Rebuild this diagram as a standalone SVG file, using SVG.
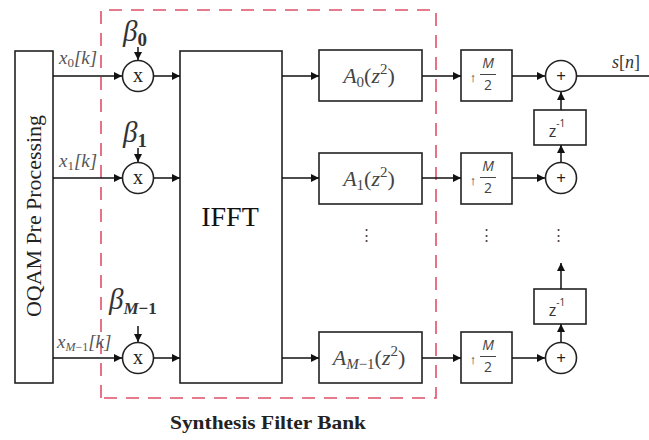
<svg xmlns="http://www.w3.org/2000/svg" width="649" height="440" viewBox="0 0 649 440">
<defs>
<marker id="ah" viewBox="0 0 10 10" refX="10" refY="5" markerWidth="8" markerHeight="8" markerUnits="userSpaceOnUse" orient="auto"><path d="M0,0 L10,5 L0,10 z" fill="#111"/></marker>
</defs>
<style>
.box{fill:#fff;stroke:#222;stroke-width:1.6}
.ln{stroke:#111;stroke-width:1.5;fill:none}
.ar{stroke:#111;stroke-width:1.5;fill:none;marker-end:url(#ah)}
.serif{font-family:"Liberation Serif","DejaVu Serif",serif}
.mi{font-family:"Liberation Serif","DejaVu Serif",serif;font-style:italic}
.sans{font-family:"Open Sans","Liberation Sans",sans-serif}
.lab{fill:#555;font-size:19px}
.beta{fill:#333;font-size:29px}
.af{fill:#444;font-size:22px}
.mx{font-size:20px;fill:#222}
</style>
<rect width="649" height="440" fill="#fff"/>
<g id="sfb-boundary">
<path d="M101,398 V10 H436 V398 Z" fill="none" stroke="#e0506a" stroke-width="1.6" stroke-dasharray="13,9"/>
</g>
<g id="oqam">
<rect class="box" x="15" y="51" width="38" height="332"/>
<text class="serif" font-size="20" fill="#222" text-anchor="middle" textLength="202" lengthAdjust="spacingAndGlyphs" transform="translate(41,216) rotate(-90)">OQAM Pre Processing</text>
</g>
<g id="ifft">
<rect class="box" x="180" y="51" width="102" height="332"/>
<text class="serif" x="230" y="226" font-size="28" fill="#111" text-anchor="middle">IFFT</text>
</g>
<g id="mul0"><circle class="box" cx="138" cy="76" r="15.5"/><text class="serif mx" x="138" y="82" text-anchor="middle">x</text>
<text class="mi beta" x="123" y="41">β<tspan font-style="normal" font-weight="bold" font-size="19" dy="5">0</tspan></text></g>
<g id="mul1"><circle class="box" cx="138" cy="178" r="15.5"/><text class="serif mx" x="138" y="184" text-anchor="middle">x</text>
<text class="mi beta" x="123" y="142">β<tspan font-style="normal" font-weight="bold" font-size="19" dy="5">1</tspan></text></g>
<g id="mul2"><circle class="box" cx="138" cy="358" r="15.5"/><text class="serif mx" x="138" y="364" text-anchor="middle">x</text>
<text class="mi beta" x="109" y="309">β<tspan font-size="17" font-weight="bold" dy="5">M</tspan><tspan font-style="normal" font-weight="bold" font-size="17">−1</tspan></text></g>
<g id="a0"><rect class="box" x="319" y="50" width="103" height="51"/>
<text class="mi af" x="369" y="83" text-anchor="middle">A<tspan font-style="normal" font-size="15" dy="4">0</tspan><tspan font-style="normal" dy="-4">(</tspan>z<tspan font-style="normal" font-size="15" dy="-9">2</tspan><tspan font-style="normal" dy="9">)</tspan></text></g>
<g id="a1"><rect class="box" x="319" y="153" width="103" height="51"/>
<text class="mi af" x="369" y="186" text-anchor="middle">A<tspan font-style="normal" font-size="15" dy="4">1</tspan><tspan font-style="normal" dy="-4">(</tspan>z<tspan font-style="normal" font-size="15" dy="-9">2</tspan><tspan font-style="normal" dy="9">)</tspan></text></g>
<g id="a2"><rect class="box" x="319" y="332" width="103" height="51"/>
<text class="mi af" x="369" y="365" text-anchor="middle">A<tspan font-size="15" dy="4">M</tspan><tspan font-style="normal" font-size="15">−1</tspan><tspan font-style="normal" dy="-4">(</tspan>z<tspan font-style="normal" font-size="15" dy="-9">2</tspan><tspan font-style="normal" dy="9">)</tspan></text></g>
<g id="up0"><rect class="box" x="461" y="50" width="51" height="51"/>
<text class="sans" x="473" y="82" font-size="13" fill="#333" text-anchor="middle">↑</text>
<text class="sans" x="488" y="68" font-size="14" font-style="italic" fill="#444" text-anchor="middle">M</text>
<line x1="480" y1="74.5" x2="496" y2="74.5" stroke="#444" stroke-width="1"/>
<text class="sans" x="488" y="90" font-size="14" fill="#444" text-anchor="middle">2</text></g>
<g id="up1"><rect class="box" x="461" y="153" width="51" height="51"/>
<text class="sans" x="473" y="185" font-size="13" fill="#333" text-anchor="middle">↑</text>
<text class="sans" x="488" y="171" font-size="14" font-style="italic" fill="#444" text-anchor="middle">M</text>
<line x1="480" y1="177.5" x2="496" y2="177.5" stroke="#444" stroke-width="1"/>
<text class="sans" x="488" y="193" font-size="14" fill="#444" text-anchor="middle">2</text></g>
<g id="up2"><rect class="box" x="461" y="332" width="51" height="51"/>
<text class="sans" x="473" y="364" font-size="13" fill="#333" text-anchor="middle">↑</text>
<text class="sans" x="488" y="350" font-size="14" font-style="italic" fill="#444" text-anchor="middle">M</text>
<line x1="480" y1="356.5" x2="496" y2="356.5" stroke="#444" stroke-width="1"/>
<text class="sans" x="488" y="372" font-size="14" fill="#444" text-anchor="middle">2</text></g>
<g id="add0"><circle class="box" cx="561" cy="76" r="15.5"/><text class="sans" x="561" y="82" font-size="17" text-anchor="middle" fill="#222">+</text></g>
<g id="add1"><circle class="box" cx="561" cy="178" r="15.5"/><text class="sans" x="561" y="184" font-size="17" text-anchor="middle" fill="#222">+</text></g>
<g id="add2"><circle class="box" cx="561" cy="358" r="15.5"/><text class="sans" x="561" y="364" font-size="17" text-anchor="middle" fill="#222">+</text></g>
<g id="z0"><rect class="box" x="534" y="110" width="52" height="35"/>
<text class="sans" x="557" y="137" font-size="16" fill="#333" text-anchor="middle">z<tspan font-size="10" dy="-10">-1</tspan></text></g>
<g id="z1"><rect class="box" x="534" y="289" width="52" height="35"/>
<text class="sans" x="557" y="316" font-size="16" fill="#333" text-anchor="middle">z<tspan font-size="10" dy="-10">-1</tspan></text></g>
<g id="labels">
<text class="mi lab" x="59" y="64">x<tspan font-style="normal" font-size="13" dy="3">0</tspan><tspan dy="-3">[k]</tspan></text>
<text class="mi lab" x="59" y="167">x<tspan font-style="normal" font-size="13" dy="3">1</tspan><tspan dy="-3">[k]</tspan></text>
<text class="mi lab" x="57" y="348">x<tspan font-size="12" dy="3">M</tspan><tspan font-style="normal" font-size="12">−1</tspan><tspan dy="-3">[k]</tspan></text>
<text class="mi" x="612" y="68" font-size="18" fill="#333">s<tspan font-style="normal">[</tspan>n<tspan font-style="normal">]</tspan></text>
<text class="serif" x="366" y="240" font-size="15" fill="#444" text-anchor="middle">⋮</text>
<text class="serif" x="486" y="240" font-size="15" fill="#444" text-anchor="middle">⋮</text>
<text class="serif" x="558" y="240" font-size="15" fill="#444" text-anchor="middle">⋮</text>
<text class="serif" x="268" y="429" font-size="19" font-weight="bold" fill="#222" text-anchor="middle" textLength="196" lengthAdjust="spacingAndGlyphs">Synthesis Filter Bank</text>
</g>
<g id="connectors">
<line class="ar" x1="53" y1="76" x2="122" y2="76"/>
<line class="ar" x1="53" y1="178" x2="122" y2="178"/>
<line class="ar" x1="53" y1="358" x2="122" y2="358"/>
<line class="ar" x1="138" y1="47" x2="138" y2="60"/>
<line class="ar" x1="138" y1="148" x2="138" y2="162"/>
<line class="ar" x1="138" y1="326" x2="138" y2="342"/>
<line class="ar" x1="154" y1="76" x2="180" y2="76"/>
<line class="ar" x1="154" y1="178" x2="180" y2="178"/>
<line class="ar" x1="154" y1="358" x2="180" y2="358"/>
<line class="ar" x1="282" y1="76" x2="319" y2="76"/>
<line class="ar" x1="282" y1="178" x2="319" y2="178"/>
<line class="ar" x1="282" y1="358" x2="319" y2="358"/>
<line class="ar" x1="422" y1="76" x2="461" y2="76"/>
<line class="ar" x1="422" y1="178" x2="461" y2="178"/>
<line class="ar" x1="422" y1="358" x2="461" y2="358"/>
<line class="ar" x1="512" y1="76" x2="545" y2="76"/>
<line class="ar" x1="512" y1="178" x2="545" y2="178"/>
<line class="ar" x1="512" y1="358" x2="545" y2="358"/>
<line class="ar" x1="561" y1="162" x2="561" y2="145"/>
<line class="ar" x1="561" y1="110" x2="561" y2="92"/>
<line class="ar" x1="561" y1="342" x2="561" y2="324"/>
<line class="ar" x1="561" y1="289" x2="561" y2="263"/>
<line class="ln" x1="577" y1="76" x2="649" y2="76"/>
</g>
</svg>
